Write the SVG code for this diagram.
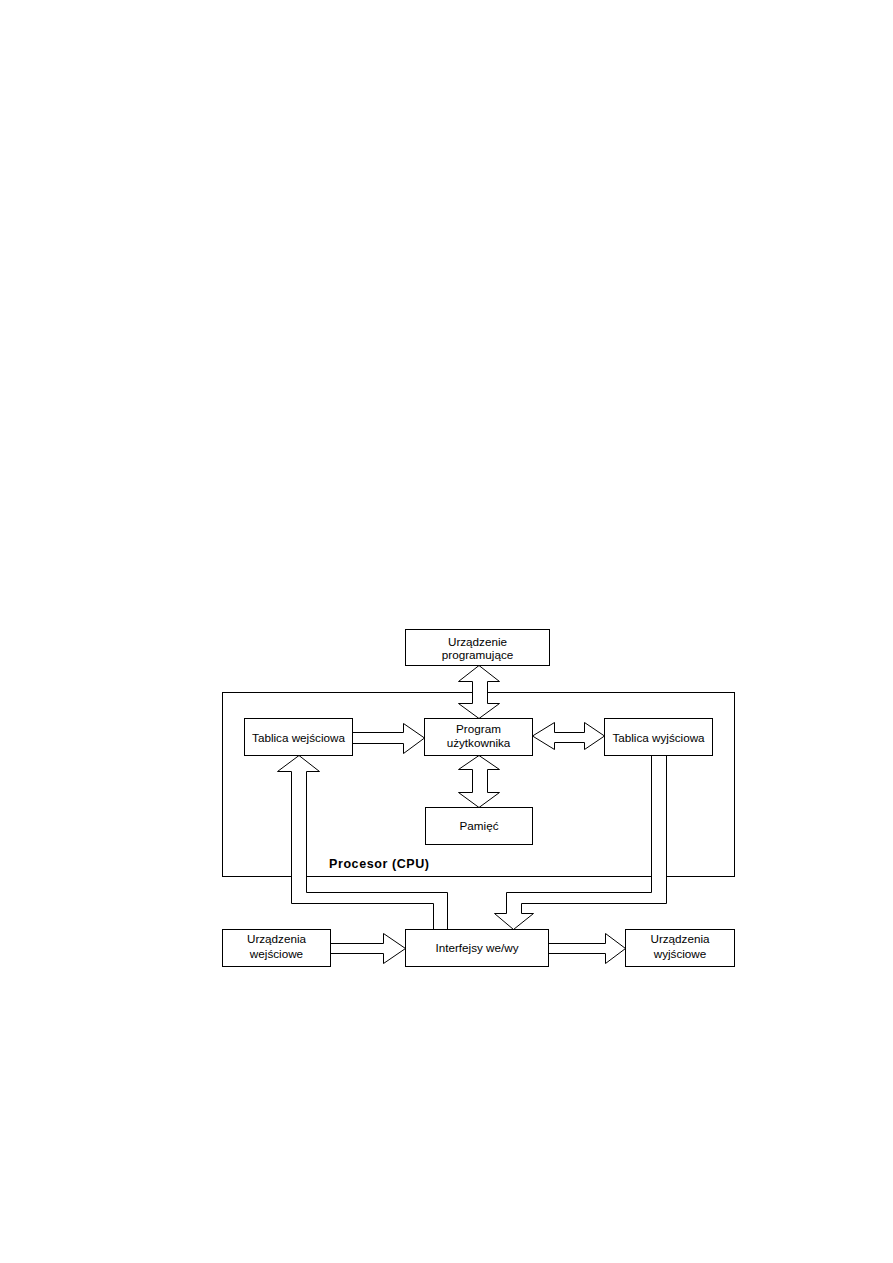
<svg xmlns="http://www.w3.org/2000/svg" width="893" height="1263" viewBox="0 0 893 1263">
<style>
.box{fill:#fff;stroke:#000;stroke-width:1}
.arr{fill:#fff;stroke:#000;stroke-width:1;stroke-linejoin:miter}
.t{font-family:"Liberation Sans",Arial,sans-serif;font-size:11.7px;fill:#000;text-anchor:middle}
.b{font-family:"Liberation Sans",Arial,sans-serif;font-size:12.5px;font-weight:bold;fill:#000}
</style>
<rect width="893" height="1263" fill="#fff"/>
<g id="cpu">
<rect class="box" x="222.5" y="692.5" width="512" height="184"/>
<text class="b" x="329" y="868" textLength="100" lengthAdjust="spacing">Procesor (CPU)</text>
</g>
<g id="connectors">
<polygon class="arr" points="479,665.5 499.5,681.5 487.5,681.5 487.5,703.5 499.5,703.5 479,718.5 458.5,703.5 472.5,703.5 472.5,681.5 458.5,681.5"/>
<polygon class="arr" points="479,755.5 499.5,769.5 487.5,769.5 487.5,792.5 499.5,792.5 479,807.5 458.5,792.5 472.5,792.5 472.5,769.5 458.5,769.5"/>
<polygon class="arr" points="352.5,732.5 403.5,732.5 403.5,723.5 424.5,738 403.5,753.5 403.5,743.5 352.5,743.5"/>
<polygon class="arr" points="532.5,736 554.5,722.5 554.5,732.5 584.5,732.5 584.5,722.5 604.5,736 584.5,749.5 584.5,742.5 554.5,742.5 554.5,749.5"/>
<polygon class="arr" points="433.5,929.5 433.5,903.5 291.5,903.5 291.5,771.5 277.5,771.5 299,755.5 319.5,771.5 306.5,771.5 306.5,892.5 447.5,892.5 447.5,929.5"/>
<polygon class="arr" points="651.5,755.5 651.5,892.5 506.5,892.5 506.5,913.5 494.5,913.5 513.5,929.5 533.5,913.5 521.5,913.5 521.5,903.5 666.5,903.5 666.5,755.5"/>
<polygon class="arr" points="330.5,943.5 383.5,943.5 383.5,933.5 405.5,948.5 383.5,963.5 383.5,953.5 330.5,953.5"/>
<polygon class="arr" points="548.5,943.5 605.5,943.5 605.5,933.5 625.5,948.5 605.5,963.5 605.5,953.5 548.5,953.5"/>
</g>
<g id="urzadzenie-programujace">
<rect class="box" x="405.5" y="629.5" width="144" height="36"/>
<text class="t" x="477.5" y="646">Urządzenie</text>
<text class="t" x="477.5" y="659">programujące</text>
</g>
<g id="tablica-wejsciowa">
<rect class="box" x="244.5" y="718.5" width="108" height="37"/>
<text class="t" x="298.5" y="741.5">Tablica wejściowa</text>
</g>
<g id="program-uzytkownika">
<rect class="box" x="424.5" y="718.5" width="108" height="37"/>
<text class="t" x="478.5" y="733">Program</text>
<text class="t" x="478.5" y="747">użytkownika</text>
</g>
<g id="tablica-wyjsciowa">
<rect class="box" x="604.5" y="718.5" width="108" height="37"/>
<text class="t" x="658.5" y="741.5">Tablica wyjściowa</text>
</g>
<g id="pamiec">
<rect class="box" x="425.5" y="807.5" width="107" height="37"/>
<text class="t" x="479" y="830">Pamięć</text>
</g>
<g id="urzadzenia-wejsciowe">
<rect class="box" x="222.5" y="929.5" width="108" height="37"/>
<text class="t" x="276.5" y="943">Urządzenia</text>
<text class="t" x="276.5" y="958">wejściowe</text>
</g>
<g id="interfejsy">
<rect class="box" x="405.5" y="929.5" width="143" height="37"/>
<text class="t" x="477" y="952">Interfejsy we/wy</text>
</g>
<g id="urzadzenia-wyjsciowe">
<rect class="box" x="625.5" y="929.5" width="109" height="37"/>
<text class="t" x="680" y="943">Urządzenia</text>
<text class="t" x="680" y="958">wyjściowe</text>
</g>
</svg>
